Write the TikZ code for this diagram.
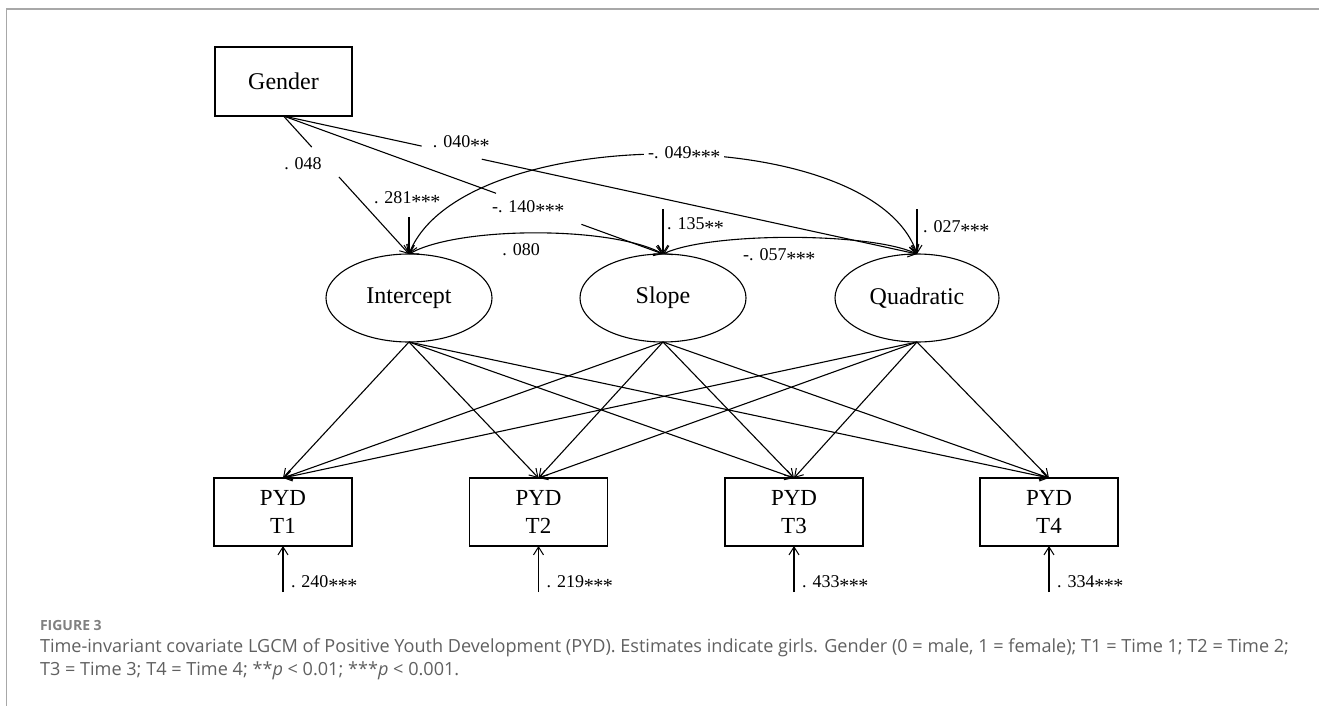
\documentclass[tikz,border=0pt]{standalone}
\usepackage{fontspec}
\setmainfont{Liberation Serif}
\newfontfamily\capfont{Open Sans}
\usetikzlibrary{shapes.geometric,arrows.meta,calc}
\definecolor{framegray}{HTML}{A8A8A8}
\definecolor{capgray}{HTML}{808080}
\definecolor{captext}{HTML}{606060}
\newcommand\astr{\makebox[9.5pt]{\raisebox{-5pt}{\fontsize{20}{20}\selectfont *}}}
\begin{document}
\begin{tikzpicture}[x=1pt,y=-1pt,
  every node/.style={inner sep=0pt,outer sep=0pt},
  obs/.style={draw,line width=1.1pt,minimum width=138pt,minimum height=68pt,align=center,font=\fontsize{23}{28}\selectfont},
  latent/.style={draw,ellipse,line width=1.1pt,minimum width=166pt,minimum height=88pt,font=\fontsize{24}{28}\selectfont},
  coef/.style={font=\fontsize{18}{20}\selectfont},
  path/.style={line width=1.1pt,-{Straight Barb[length=8pt,width=10pt,line width=1pt]}},
  plain/.style={line width=1.1pt},
  cov/.style={line width=1.1pt,{Straight Barb[length=8pt,width=10pt,line width=1pt]}-{Straight Barb[length=8pt,width=10pt,line width=1pt]}},
  captxt/.style={anchor=west,text=captext,font=\capfont\fontsize{18.1}{23}\selectfont}
]
\useasboundingbox (0,0) rectangle (1319,706);
% frame
\draw[framegray,line width=1.6pt] (1319,9) -- (6.5,9) -- (6.5,706);

% nodes
\node[obs,minimum width=137pt,minimum height=69pt,font=\fontsize{24}{28}\selectfont] (g) at (283.5,81.5) {Gender};
\node[latent] (int) at (409,298) {Intercept};
\node[latent] (slope) at (663,298) {Slope};
\node[latent,minimum width=164pt] (quad) at (917,298) {Quadratic};
\node[obs] (t1) at (283,512) {PYD\\T1};
\node[obs] (t2) at (538.5,512) {PYD\\T2};
\node[obs] (t3) at (794,512) {PYD\\T3};
\node[obs] (t4) at (1049,512) {PYD\\T4};

% gender paths (broken at labels)
\draw[plain] (g.south) -- ($(g.south)!0.225!(int.north)$);
\draw[path] ($(g.south)!0.442!(int.north)$) -- (int.north);
\node[coef] (l1) at (303,164) {. 048};
\draw[plain] (g.south) -- ($(g.south)!0.218!(quad.north)$);
\draw[path] ($(g.south)!0.313!(quad.north)$) -- (quad.north);
\node[coef] (l2) at (461,144) {. 040\astr\astr};
\draw[plain] (g.south) -- ($(g.south)!0.56!(slope.north)$);
\draw[path] ($(g.south)!0.785!(slope.north)$) -- (slope.north);
\node[coef] (l3) at (528,209) {-. 140\astr\astr\astr};

% disturbances of latent factors
\draw[path] ([yshift=37pt]int.north) -- (int.north);
\node[coef] (l4) at (407,200) {. 281\astr\astr\astr};
\draw[path] ([yshift=45pt]slope.north) -- (slope.north);
\node[coef,anchor=west] (l5) at (667,226) {. 135\astr\astr};
\draw[path] ([yshift=45pt]quad.north) -- (quad.north);
\node[coef,anchor=west] (l6) at (923,229) {. 027\astr\astr\astr};

% covariances
\draw[cov] (int.north) .. controls (459,226) and (612,226) .. (slope.north);
\node[coef] (l7) at (521,250) {. 080};
\draw[cov] (slope.north) .. controls (710,232) and (870,232) .. (quad.north);
\node[coef] (l8) at (779,257) {-. 057\astr\astr\astr};
\draw[cov] (int.north) .. controls (462,121) and (872,121) .. (quad.north);
\node[coef,fill=white,inner xsep=4pt,inner ysep=2pt] (l9) at (684,155) {-. 049\astr\astr\astr};

% loadings
\foreach \f in {int,slope,quad}{
  \foreach \t in {t1,t2,t3,t4}{
    \draw[path] (\f.south) -- (\t.north);
  }
}

% residuals
\foreach \t/\v in {t1/240,t2/219,t3/433,t4/334}{
  \draw[path] ([yshift=-46pt]\t.south) -- (\t.south);
  \node[coef,anchor=west] (r\t) at ([xshift=8pt,yshift=-38pt]\t.south) {. \v\astr\astr\astr};
}

% caption
\node[anchor=west,text=capgray,font=\capfont\bfseries\fontsize{14}{16}\selectfont] (fig) at (40,625) {FIGURE 3};
\node[captxt] (c1) at (40,648) {Time-invariant covariate LGCM of Positive Youth Development (PYD). Estimates indicate girls. Gender (0 = male, 1 = female); T1 = Time 1; T2 = Time 2;};
\node[captxt] (c2) at (40,671) {T3 = Time 3; T4 = Time 4; **\textit{p} < 0.01; ***\textit{p} < 0.001.};
\end{tikzpicture}
\end{document}
